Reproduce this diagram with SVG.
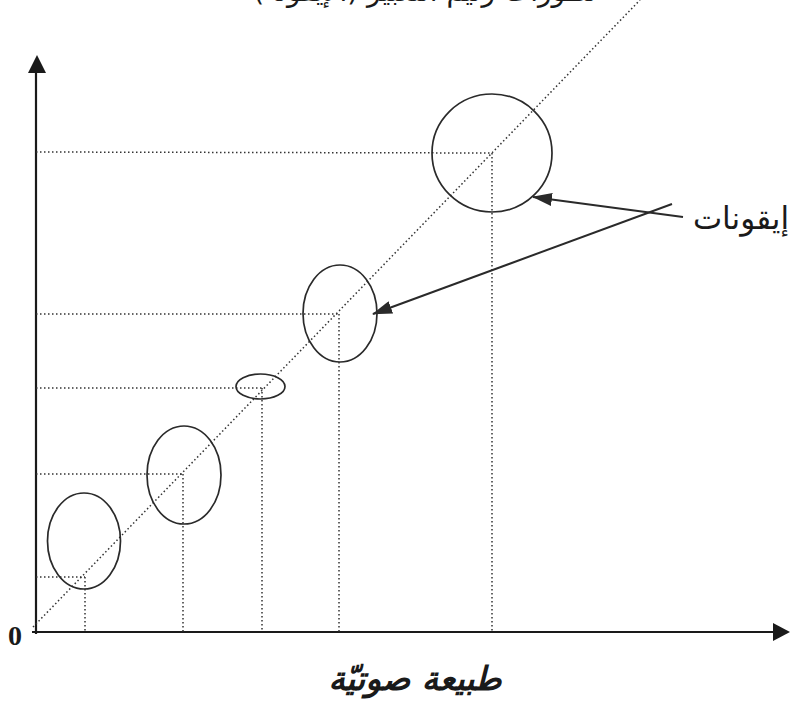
<svg xmlns="http://www.w3.org/2000/svg" width="796" height="703" viewBox="0 0 796 703">
<style>
.axis{stroke:#1a1a1a;stroke-width:2.2;fill:none}
.dot{stroke:#333;stroke-width:1.5;stroke-dasharray:1.5 2.5;fill:none}
.icon{stroke:#2a2a2a;stroke-width:1.7;fill:none}
.ptr{stroke:#2a2a2a;stroke-width:2;fill:none}
.ar{font-family:"DejaVu Sans","Noto Sans",sans-serif;fill:#1a1a1a}
</style>
<defs>
<marker id="ptrh" markerWidth="20" markerHeight="13" refX="19" refY="6.5" orient="auto" markerUnits="userSpaceOnUse" viewBox="0 0 20 13">
<path d="M0,0 L20,6.5 L0,13 Z" fill="#2a2a2a"/>
</marker>
</defs>
<text class="ar" x="425" y="1" font-size="28" text-anchor="middle" direction="rtl">تطوّرات رتيم التعبير (الإيقونة)</text>
<g id="axes">
<line class="axis" x1="36" y1="634" x2="36" y2="70"/>
<path d="M37,55 L28,73 L46,73 Z" fill="#1a1a1a"/>
<line class="axis" x1="32" y1="632" x2="775" y2="632"/>
<path d="M790,632 L773,623 L773,641 Z" fill="#1a1a1a"/>
<text x="8" y="645" font-family="Liberation Serif, serif" font-weight="bold" font-size="28" fill="#1a1a1a">0</text>
</g>
<g id="guides">
<line class="dot" x1="33" y1="627" x2="640" y2="0"/>
<line class="dot" x1="36" y1="577" x2="85" y2="577"/>
<line class="dot" x1="85" y1="577" x2="85" y2="632"/>
<line class="dot" x1="36" y1="474" x2="183" y2="474"/>
<line class="dot" x1="183" y1="474" x2="183" y2="632"/>
<line class="dot" x1="36" y1="388" x2="262" y2="388"/>
<line class="dot" x1="262" y1="388" x2="262" y2="632"/>
<line class="dot" x1="36" y1="314" x2="339" y2="314"/>
<line class="dot" x1="339" y1="314" x2="339" y2="632"/>
<line class="dot" x1="36" y1="152" x2="492" y2="153"/>
<line class="dot" x1="492" y1="153" x2="492" y2="632"/>
</g>
<g id="icon1"><ellipse class="icon" cx="84" cy="541" rx="36.5" ry="48"/></g>
<g id="icon2"><ellipse class="icon" cx="184" cy="475" rx="37" ry="49"/></g>
<g id="icon3"><ellipse class="icon" cx="260.5" cy="386.5" rx="24.5" ry="12.5"/></g>
<g id="icon4"><ellipse class="icon" cx="340" cy="313.5" rx="37" ry="48.5"/></g>
<g id="icon5"><ellipse class="icon" cx="492" cy="153" rx="60" ry="59"/></g>
<g id="label-icons">
<text class="ar" x="741" y="229" font-size="31" text-anchor="middle" direction="rtl">إيقونات</text>
</g>
<g id="connectors">
<line class="ptr" x1="683" y1="217" x2="533" y2="197" marker-end="url(#ptrh)"/>
<line class="ptr" x1="672" y1="204" x2="373" y2="314" marker-end="url(#ptrh)"/>
</g>
<g id="label-x">
<text class="ar" x="415" y="690" font-size="33" font-weight="bold" font-style="italic" text-anchor="middle" direction="rtl">طبيعة صوتيّة</text>
</g>
</svg>
